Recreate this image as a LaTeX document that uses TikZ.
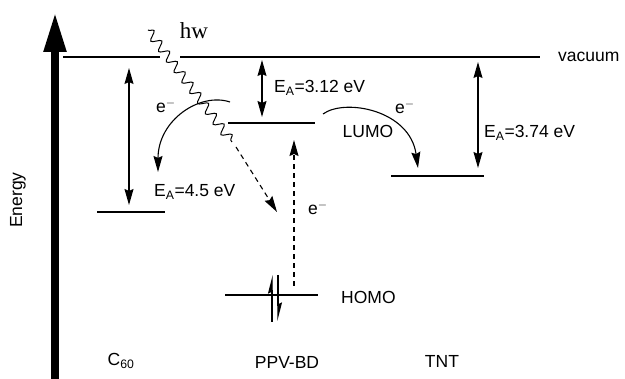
\documentclass[tikz,border=0pt]{standalone}
\usepackage{fontspec}
\setmainfont{Liberation Sans}
\newfontfamily\hvfont{Liberation Serif}
\usetikzlibrary{arrows.meta, decorations.pathmorphing}

\begin{document}
\begin{tikzpicture}[
    x=1pt, y=-1pt,
    font=\fontsize{17.5}{20}\selectfont,
    >={Stealth[length=16pt, width=9pt, inset=2pt]},
    level/.style={line width=1.3pt},
    gaparrow/.style={<->, line width=1.1pt},
    transfer/.style={->, line width=1.1pt},
    dasharrow/.style={->, line width=1.1pt, dash pattern=on 5pt off 4pt},
    spin/.style={line width=1.3pt, -{Stealth[harpoon, length=16pt, width=8pt, inset=2pt]}},
    photon/.style={line width=1pt, decorate, decoration={snake, segment length=13pt, amplitude=4.5pt}},
    lbl/.style={inner sep=1pt}
]
\useasboundingbox (0,0) rectangle (625,379);

% Energy axis
\coordinate (ebot) at (55,379);
\coordinate (etop) at (55,12);
\draw[line width=8pt, -{Triangle[length=40pt, width=21pt]}] (ebot) -- (etop);
\node[rotate=90] (energy) at (18,200) {Energy};

% Vacuum level (gap where the photon passes)
\coordinate (vacL) at (63,57);
\coordinate (gapL) at (160,57);
\coordinate (gapR) at (180,57);
\coordinate (vacR) at (540,57);
\draw[level] (vacL) -- (gapL) (gapR) -- (vacR);
\node[lbl, anchor=west] (vacuum) at (557,57) {vacuum};

% Photon
\coordinate (hvA) at (148,30);
\coordinate (hvB) at (232,142);
\draw[photon] (hvA) -- (hvB);
\node[lbl] (hv) at (194,31) {\hvfont\fontsize{23}{24}\selectfont hw};

% Levels
\coordinate (c60L) at (97,212);   \coordinate (c60R) at (165,212);
\coordinate (lumoL) at (228,123); \coordinate (lumoR) at (315,123);
\coordinate (homoL) at (225,295); \coordinate (homoR) at (318,295);
\coordinate (tntL) at (391,176);  \coordinate (tntR) at (484,176);
\draw[level] (c60L) -- (c60R);
\draw[level] (lumoL) -- (lumoR);
\draw[level] (homoL) -- (homoR);
\draw[level] (tntL) -- (tntR);

% Electron affinities
\coordinate (c60a) at (129,68);  \coordinate (c60b) at (129,205);
\coordinate (ppva) at (262,60);  \coordinate (ppvb) at (262,117);
\coordinate (tnta) at (478,62);  \coordinate (tntb) at (478,168);
\draw[gaparrow] (c60a) -- (c60b);
\draw[gaparrow] (ppva) -- (ppvb);
\draw[gaparrow] (tnta) -- (tntb);
\node[lbl, anchor=west] (eac60) at (153,192) {E\textsubscript{A}=4.5 eV};
\node[lbl, anchor=west] (eappv) at (273,88) {E\textsubscript{A}=3.12 eV};
\node[lbl, anchor=west] (eatnt) at (483,133) {E\textsubscript{A}=3.74 eV};

% Electron transfer
\coordinate (tc60a) at (230,102); \coordinate (tc60b) at (158,172);
\draw[transfer] (tc60a) .. controls (200,92) and (158,120) .. (tc60b);
\node[lbl] (ec60) at (166,106) {e\textsuperscript{$-$}};
\coordinate (ttnta) at (323,114); \coordinate (ttntb) at (418,168);
\draw[transfer] (ttnta) .. controls (345,98) and (410,110) .. (ttntb);
\node[lbl] (etnt) at (405,107) {e\textsuperscript{$-$}};
\node[lbl] (lumo) at (368,131) {LUMO};

% Excitation
\coordinate (exA) at (236,147); \coordinate (exB) at (277,212);
\draw[dasharrow] (exA) -- (exB);
\coordinate (upA) at (294,286); \coordinate (upB) at (294,140);
\draw[dasharrow] (upA) -- (upB);
\node[lbl] (eup) at (318,208) {e\textsuperscript{$-$}};

% HOMO electrons
\coordinate (s1a) at (272,322); \coordinate (s1b) at (272,275);
\coordinate (s2a) at (278,275); \coordinate (s2b) at (278,321);
\draw[spin] (s1a) -- (s1b);
\draw[spin] (s2a) -- (s2b);
\node[lbl, anchor=west] (homo) at (340,297) {HOMO};

% Molecules
\node (c60) at (121,361) {C\textsubscript{60}};
\node (ppv) at (287,362) {PPV-BD};
\node (tnt) at (442,361) {TNT};

\end{tikzpicture}
\end{document}
